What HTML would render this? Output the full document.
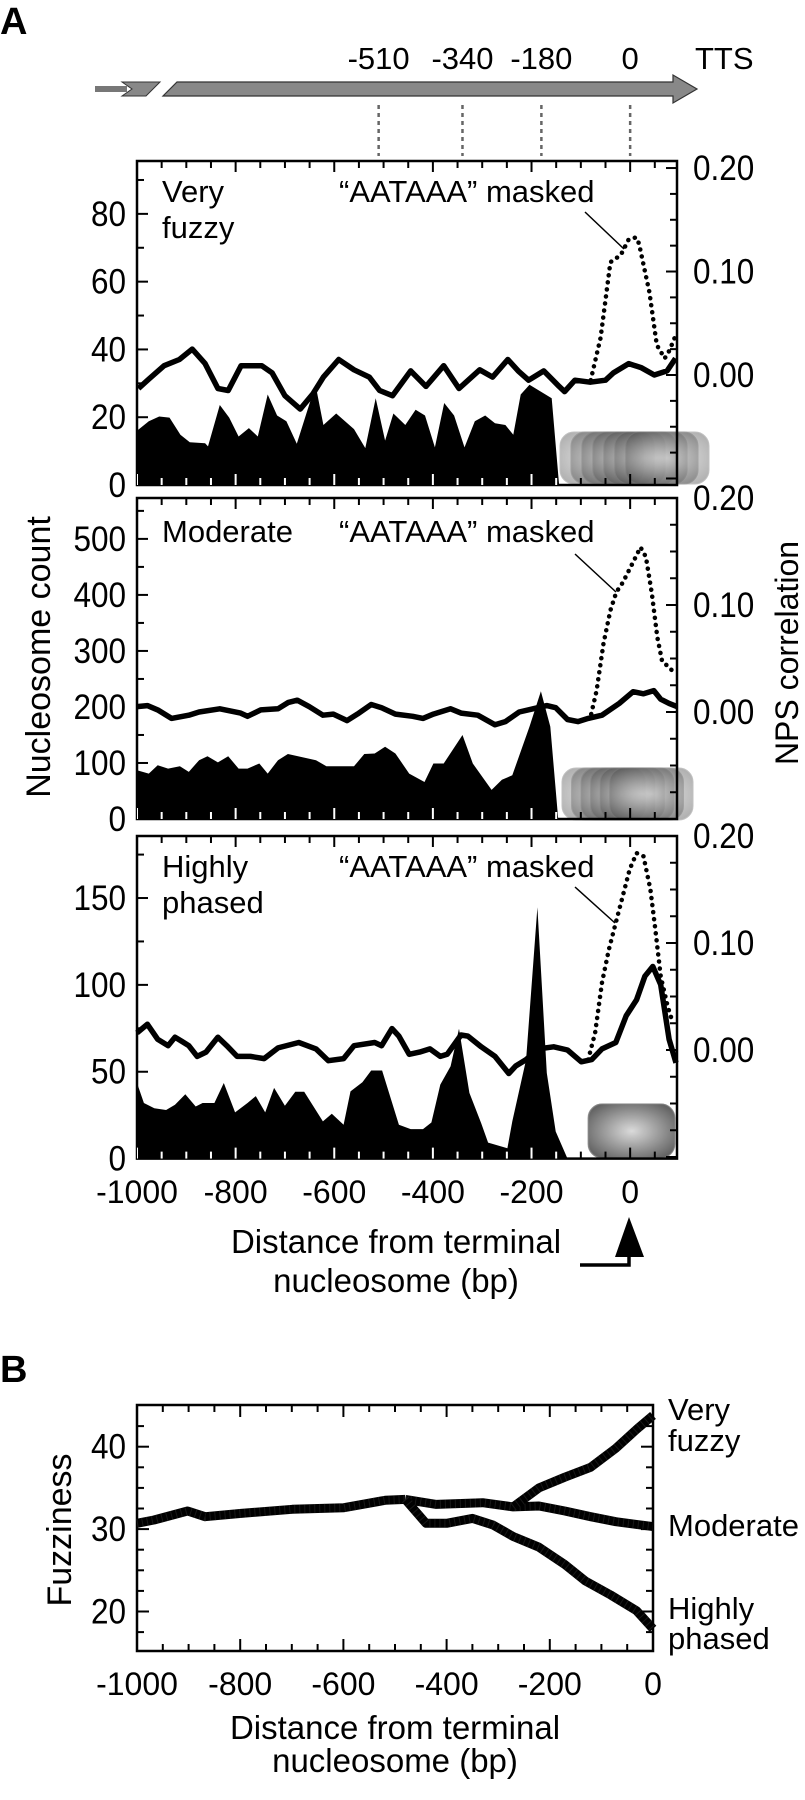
<!DOCTYPE html>
<html><head><meta charset="utf-8"><style>
html,body{margin:0;padding:0;background:#fff;}
svg{display:block;font-family:"Liberation Sans",Arial,sans-serif;}
</style></head><body>
<svg id="fig" width="805" height="1800" viewBox="0 0 805 1800" xmlns="http://www.w3.org/2000/svg">
<defs>
<radialGradient id="nucg" cx="0.5" cy="0.5" r="0.6"><stop offset="0" stop-color="#d8d8d8"/><stop offset="1" stop-color="#555"/></radialGradient>
</defs>
<text x="0" y="34" font-size="38" font-weight="bold">A</text>
<text x="0" y="1382" font-size="38" font-weight="bold">B</text>
<g>
<rect x="95" y="86" width="32" height="6" fill="#777"/>
<polygon points="122,82 160,82 146,96 122,96 132,89" fill="#888" stroke="#333" stroke-width="1"/>
<polygon points="177,82 673,82 673,75 697,89 673,103 673,96 163,96" fill="#888" stroke="#333" stroke-width="1.2"/>
</g>
<g id="top-labels"></g>
<g id="plots"></g>
</svg>
<script>
// ---- Panel A data (bp, nucleosome counts, NPS correlation) ----
const xTickLabelsA = [-1000,-800,-600,-400,-200,0];
const ttsPositions = [-510,-340,-180,0];
const ttsLabels = ["-510","-340","-180","0"];

const p1AreaX = [-1000,-976,-955,-934,-912,-893,-862,-856,-832,-813,-794,-773,-755,-735,-716,-697,-676,-638,-622,-596,-560,-537,-516,-497,-480,-456,-435,-416,-396,-377,-357,-336,-315,-294,-274,-253,-237,-222,-204,-159,-144,95];
const p1AreaY = [16,18.8,20.2,19.9,14.8,12.6,12.3,11.4,23.6,19.9,14.3,16.8,14.3,26.7,20.5,18.8,12.2,29.6,17.7,21.1,16.5,10.9,25.6,13.1,21.1,17.7,22.2,20.5,11.1,24.2,20.5,11.1,18.8,20.5,18.2,17.7,14.8,26.7,29.6,25.6,0,0];
const p1LineX = [-997,-976,-945,-914,-888,-862,-836,-815,-789,-747,-726,-700,-669,-643,-622,-591,-560,-529,-508,-482,-445,-414,-378,-347,-305,-279,-248,-227,-206,-175,-144,-133,-112,-81,-50,-34,-3,23,49,75,92];
const p1LineY = [-0.013,-0.004,0.009,0.015,0.025,0.011,-0.013,-0.015,0.009,0.009,0.002,-0.020,-0.033,-0.018,-0.002,0.015,0.005,-0.002,-0.015,-0.020,0.004,-0.011,0.009,-0.013,0.005,-0.002,0.015,0.004,-0.005,0.004,-0.011,-0.016,-0.005,-0.007,-0.005,0.002,0.011,0.007,0.000,0.004,0.016];
const p1DotX = [-80,-60,-40,-19,-3,12,18,39,54,70,80,92];
const p1DotY = [-0.005,0.036,0.109,0.116,0.131,0.133,0.127,0.080,0.029,0.016,0.024,0.038];

const p2AreaX = [-1000,-976,-958,-937,-913,-895,-874,-857,-836,-815,-794,-776,-752,-735,-714,-694,-637,-616,-560,-539,-518,-497,-476,-448,-417,-399,-378,-340,-319,-281,-260,-239,-204,-181,-162,-146,95];
const p2AreaY = [87,81,96,90,94,84,105,112,101,112,90,90,99,81,105,116,105,94,94,116,117,129,117,81,66,99,99,150,99,52,70,78,165,228,165,0,0];
const p2LineX = [-1000,-979,-958,-930,-895,-874,-832,-790,-776,-749,-714,-693,-675,-651,-623,-602,-574,-553,-525,-504,-476,-441,-420,-399,-364,-343,-309,-274,-253,-225,-197,-169,-151,-127,-106,-85,-57,-22,6,27,48,62,79,95];
const p2LineY = [0.005,0.006,0.002,-0.006,-0.003,0.000,0.003,-0.001,-0.004,0.002,0.003,0.009,0.011,0.005,-0.003,-0.002,-0.008,-0.002,0.007,0.004,-0.002,-0.004,-0.006,-0.002,0.003,-0.001,-0.003,-0.012,-0.009,0.000,0.003,0.006,0.004,-0.007,-0.009,-0.006,-0.003,0.008,0.019,0.017,0.020,0.012,0.008,0.005];
const p2DotX = [-79,-68,-54,-40,-28,-15,6,21,32,44,55,65,79,90];
const p2DotY = [-0.002,0.020,0.064,0.095,0.112,0.121,0.140,0.154,0.145,0.111,0.070,0.047,0.042,0.036];

const p3AreaX = [-1000,-986,-965,-941,-923,-902,-881,-867,-843,-824,-801,-776,-759,-740,-722,-700,-679,-661,-623,-605,-581,-567,-543,-525,-503,-469,-445,-420,-403,-385,-364,-347,-326,-302,-288,-249,-239,-211,-188,-169,-151,-127,95];
const p3AreaY = [43.5,32,29,28,31,37,30,32,32,43.5,26.6,32,36,26.6,40.7,30.4,38.5,38.5,21.4,25.8,19.5,38.7,43.9,50.7,50.7,19.5,17,17,20.8,42.6,53.2,74.8,37.8,20.4,9.2,6,21.4,57,144.7,49.3,15.6,0,0];
const p3LineX = [-1000,-979,-958,-937,-923,-909,-895,-878,-860,-836,-818,-797,-770,-742,-714,-672,-637,-612,-581,-560,-518,-504,-483,-469,-448,-427,-406,-385,-371,-343,-329,-302,-274,-246,-232,-211,-186,-155,-127,-99,-78,-57,-29,-8,13,30,46,62,79,93];
const p3LineY = [0.016,0.024,0.010,0.004,0.012,0.008,0.004,-0.006,-0.002,0.012,0.004,-0.006,-0.006,-0.008,0.002,0.007,0.001,-0.010,-0.008,0.004,0.007,0.004,0.020,0.013,-0.004,-0.002,0.001,-0.006,-0.004,0.014,0.013,0.003,-0.006,-0.022,-0.015,-0.009,0.001,0.003,0.000,-0.011,-0.009,0.001,0.007,0.032,0.047,0.069,0.078,0.061,0.010,-0.012];
const p3DotX = [-85,-71,-57,-43,-29,-15,-1,13,27,41,51,62,76,86];
const p3DotY = [-0.009,0.016,0.063,0.094,0.119,0.144,0.169,0.184,0.181,0.150,0.113,0.069,0.041,0.026];

// ---- Panel B data (fuzziness) ----
const xTickLabelsB = [-1000,-800,-600,-400,-200,0];
const yTickLabelsB = [20,30,40];
const commonX = [-1000,-967,-902,-868,-798,-699,-599,-519,-480];
const commonY = [30.7,31.1,32.2,31.5,31.9,32.4,32.6,33.5,33.6];
const moderateX = [-480,-420,-330,-271,-221,-171,-121,-72,0];
const moderateY = [33.6,33.0,33.2,32.7,32.8,32.2,31.5,30.9,30.3];
const fuzzyX = [-271,-221,-171,-121,-72,-32,0];
const fuzzyY = [32.7,35.0,36.3,37.5,39.8,42.1,43.8];
const phasedX = [-480,-440,-400,-350,-310,-271,-221,-171,-131,-82,-32,0];
const phasedY = [33.6,30.7,30.7,31.3,30.5,29.1,27.8,25.7,23.7,22.0,20.1,17.9];

const NS="http://www.w3.org/2000/svg";
function mk(tag, attrs, parent){const e=document.createElementNS(NS,tag);for(const k in attrs)e.setAttribute(k,attrs[k]);parent.appendChild(e);return e;}
function txt(s, x, y, size, anchor, parent){const t=mk('text',{x:x,y:y,'font-size':size,'text-anchor':anchor||'start'},parent);t.textContent=s;return t;}
function ntxt(s, x, y, size, anchor, parent){const t=mk('text',{x:0,y:0,'font-size':size,'text-anchor':anchor||'start',transform:'translate('+x+','+y+') scale(0.9,1)'},parent);t.textContent=s;return t;}

const svg=document.getElementById('plots');
const topG=document.getElementById('top-labels');
const XL=137, XR=677, BP0=-1000, BP1=95;
function xA(bp){return XL+(bp-BP0)*(XR-XL)/(BP1-BP0);}

ttsPositions.forEach((p,i)=>{
  const t=txt(ttsLabels[i], xA(p), 69, 31, 'middle', topG);
  
  
  const l=mk('line',{x1:xA(p),x2:xA(p),y1:105,y2:156,stroke:'#666','stroke-width':2.5,'stroke-dasharray':'4,4'},topG);
  
  
});
const tts=txt('TTS',695,69,31,'start',topG);



const panels=[
 {top:161,bot:485,cmax:95.6,rTop:0.2068,rBot:-0.1063,cStep:10,cMajor:20,cLabels:[0,20,40,60,80],ax:p1AreaX,ay:p1AreaY,lx:p1LineX,ly:p1LineY,dx:p1DotX,dy:p1DotY,name:['Very','fuzzy'],ann:[585,212,624,249],nuc:[560,432,709,484],nucN:7},
 {top:498,bot:819,cmax:573,rTop:0.2,rBot:-0.1,cStep:50,cMajor:100,cLabels:[0,100,200,300,400,500],ax:p2AreaX,ay:p2AreaY,lx:p2LineX,ly:p2LineY,dx:p2DotX,dy:p2DotY,name:['Moderate'],ann:[575,554,616,592],nuc:[562,768,693,820],nucN:6},
 {top:836,bot:1158.6,cmax:185.7,rTop:0.2,rBot:-0.1015,cStep:25,cMajor:50,cLabels:[0,50,100,150],ax:p3AreaX,ay:p3AreaY,lx:p3LineX,ly:p3LineY,dx:p3DotX,dy:p3DotY,name:['Highly','phased'],ann:[575,887,615,923],nuc:[588,1104,675,1158],nucN:4}
];

panels.forEach((P,pi)=>{
  const g=mk('g',{},svg);
  
  
  const yC=v=>P.bot-(v/P.cmax)*(P.bot-P.top);
  const yR=v=>P.bot-(v-P.rBot)/(P.rTop-P.rBot)*(P.bot-P.top);
  let d='M'+xA(P.ax[0])+','+P.bot;
  P.ax.forEach((x,i)=>{d+=' L'+xA(x).toFixed(1)+','+yC(P.ay[i]).toFixed(1);});
  d+=' L'+xA(P.ax[P.ax.length-1])+','+P.bot+' Z';
  const area=mk('path',{d:d,fill:'#000'},g);
  
  
  const cp=mk('clipPath',{id:'clip'+pi},g);
  mk('path',{d:d},cp);
  const ng=mk('g',{},g);
  
  
  const [nx0,ny0,nx1,ny1]=P.nuc; const nw=(ny1-ny0)*1.6;
  for(let k=0;k<P.nucN;k++){
    const x=nx0+(nx1-nx0-nw)*k/Math.max(1,P.nucN-1);
    mk('rect',{x:x,y:ny0,width:nw,height:ny1-ny0,rx:14,fill:'url(#nucg)',opacity:0.45,stroke:'#777','stroke-width':1},ng);
  }
  const pts=P.lx.map((x,i)=>xA(x).toFixed(1)+','+yR(P.ly[i]).toFixed(1)).join(' ');
  const pl=mk('polyline',{points:pts,fill:'none',stroke:'#000','stroke-width':5.5,'stroke-linejoin':'round'},g);
  
  
  const dpts=P.dx.map((x,i)=>xA(x).toFixed(1)+','+yR(P.dy[i]).toFixed(1)).join(' ');
  const dl=mk('polyline',{points:dpts,fill:'none',stroke:'#000','stroke-width':4.5,'stroke-dasharray':'0.1,7','stroke-linecap':'round'},g);
  
  
  const fr=mk('rect',{x:XL,y:P.top,width:XR-XL,height:P.bot-P.top,fill:'none',stroke:'#000','stroke-width':2.5},g);
  
  
  for(let b=-1000;b<=BP1;b+=50){
    const L=(b%200===0)?11:7; const x=xA(b);
    mk('line',{x1:x,x2:x,y1:P.top,y2:P.top+L,stroke:'#000','stroke-width':2},g);
    mk('line',{x1:x,x2:x,y1:P.bot,y2:P.bot-L,stroke:'#000','stroke-width':2},g);
  }
  const wg=mk('g',{'clip-path':'url(#clip'+pi+')'},g);
  for(let b=-1000;b<=BP1;b+=50){
    const L=(b%200===0)?11:7; const x=xA(b);
    mk('line',{x1:x,x2:x,y1:P.bot,y2:P.bot-L,stroke:'#fff','stroke-width':2},wg);
  }
  for(let v=P.cStep;v<P.cmax;v+=P.cStep){
    const L=(v%P.cMajor===0)?11:7;
    mk('line',{x1:XL,x2:XL+L,y1:yC(v),y2:yC(v),stroke:'#000','stroke-width':2},g);
  }
  P.cLabels.forEach(v=>{
    const t=ntxt(String(v),126,yC(v)+12,35,'end',g);
    
    
  });
  for(let k=Math.ceil(P.rBot/0.025);k*0.025<P.rTop+1e-9;k++){
    const v=k*0.025; const L=(k%4===0)?11:7;
    mk('line',{x1:XR,x2:XR-L,y1:yR(v),y2:yR(v),stroke:'#000','stroke-width':2},g);
  }
  [0,0.1,0.2].forEach(v=>{
    const t=ntxt(v.toFixed(2),693,yR(v)+12,35,'start',g);
    
    
  });
  P.name.forEach((s,i)=>{
    const t=txt(s,162,P.top+(pi===1?44:41)+i*36,31,'start',g);
    
    
  });
  const m=txt('\u201CAATAAA\u201D masked',339,P.top+(pi===1?44:41),31,'start',g);
  
  
  const al=mk('line',{x1:P.ann[0],y1:P.ann[1],x2:P.ann[2],y2:P.ann[3],stroke:'#000','stroke-width':1.5},g);
  
  
});

xTickLabelsA.forEach(v=>{
  const t=txt(String(v),xA(v),1203,32,'middle',svg);
  
  
});
let t1=txt('Distance from terminal',396,1253,33,'middle',svg);


let t2=txt('nucleosome (bp)',396,1292,33,'middle',svg);


const yt=txt('Nucleosome count',0,0,34,'middle',svg);
yt.setAttribute('transform','translate(50,657) rotate(-90)');


const yt2=txt('NPS correlation',0,0,32,'middle',svg);
yt2.setAttribute('transform','translate(798,653) rotate(-90)');


const ai=mk('g',{},svg);


mk('polygon',{points:'629,1217 644,1257 615,1257',fill:'#000'},ai);
mk('polyline',{points:'580,1265 629,1265 629,1255',fill:'none',stroke:'#000','stroke-width':3.5},ai);

// ---- Panel B ----
const BXL=137,BXR=653,BYT=1405,BYB=1651;
const xB=bp=>BXL+(bp+1000)*(BXR-BXL)/1000;
const yB=f=>1446.7+(40-f)*8.24;
const gb=mk('g',{},svg);


const frB=mk('rect',{x:BXL,y:BYT,width:BXR-BXL,height:BYB-BYT,fill:'none',stroke:'#000','stroke-width':2.5},gb);


for(let b=-1000;b<=0;b+=50){
  const L=(b%200===0)?12:7;
  mk('line',{x1:xB(b),x2:xB(b),y1:BYT,y2:BYT+L,stroke:'#000','stroke-width':2},gb);
  mk('line',{x1:xB(b),x2:xB(b),y1:BYB,y2:BYB-L,stroke:'#000','stroke-width':2},gb);
}
for(let f=17.5;f<45;f+=2.5){
  const L=(f%10===0)?12:7;
  mk('line',{x1:BXL,x2:BXL+L,y1:yB(f),y2:yB(f),stroke:'#000','stroke-width':2},gb);
  mk('line',{x1:BXR,x2:BXR-L,y1:yB(f),y2:yB(f),stroke:'#000','stroke-width':2},gb);
}
function bline(xs,ys,name){
  const pts=xs.map((x,i)=>xB(x).toFixed(1)+','+yB(ys[i]).toFixed(1)).join(' ');
  const p=mk('polyline',{points:pts,fill:'none',stroke:'#000','stroke-width':9,'stroke-linejoin':'round'},gb);
  
  
  const h=mk('polyline',{points:pts,fill:'none',stroke:'#444','stroke-width':9,'stroke-dasharray':'1,4',opacity:0.35},gb);
  
  
}
bline(commonX,commonY,'fuzziness-common-line');
bline(moderateX,moderateY,'fuzziness-moderate-line');
bline(fuzzyX,fuzzyY,'fuzziness-very-fuzzy-line');
bline(phasedX,phasedY,'fuzziness-highly-phased-line');
xTickLabelsB.forEach(v=>{
  const t=txt(String(v),xB(v),1695,32,'middle',gb);
  
  
});
yTickLabelsB.forEach(v=>{
  const t=ntxt(String(v),126,yB(v)+12,35,'end',gb);
  
  
});
[['Very',1420],['fuzzy',1451],['Moderate',1536],['Highly',1619],['phased',1649]].forEach(a=>{
  const t=txt(a[0],668,a[1],31,'start',gb);
  
  
});
let b1=txt('Distance from terminal',395,1739,33,'middle',gb);


let b2=txt('nucleosome (bp)',395,1772,33,'middle',gb);


const fy=txt('Fuzziness',0,0,34,'middle',gb);
fy.setAttribute('transform','translate(71,1530) rotate(-90)');


</script>
</body></html>
